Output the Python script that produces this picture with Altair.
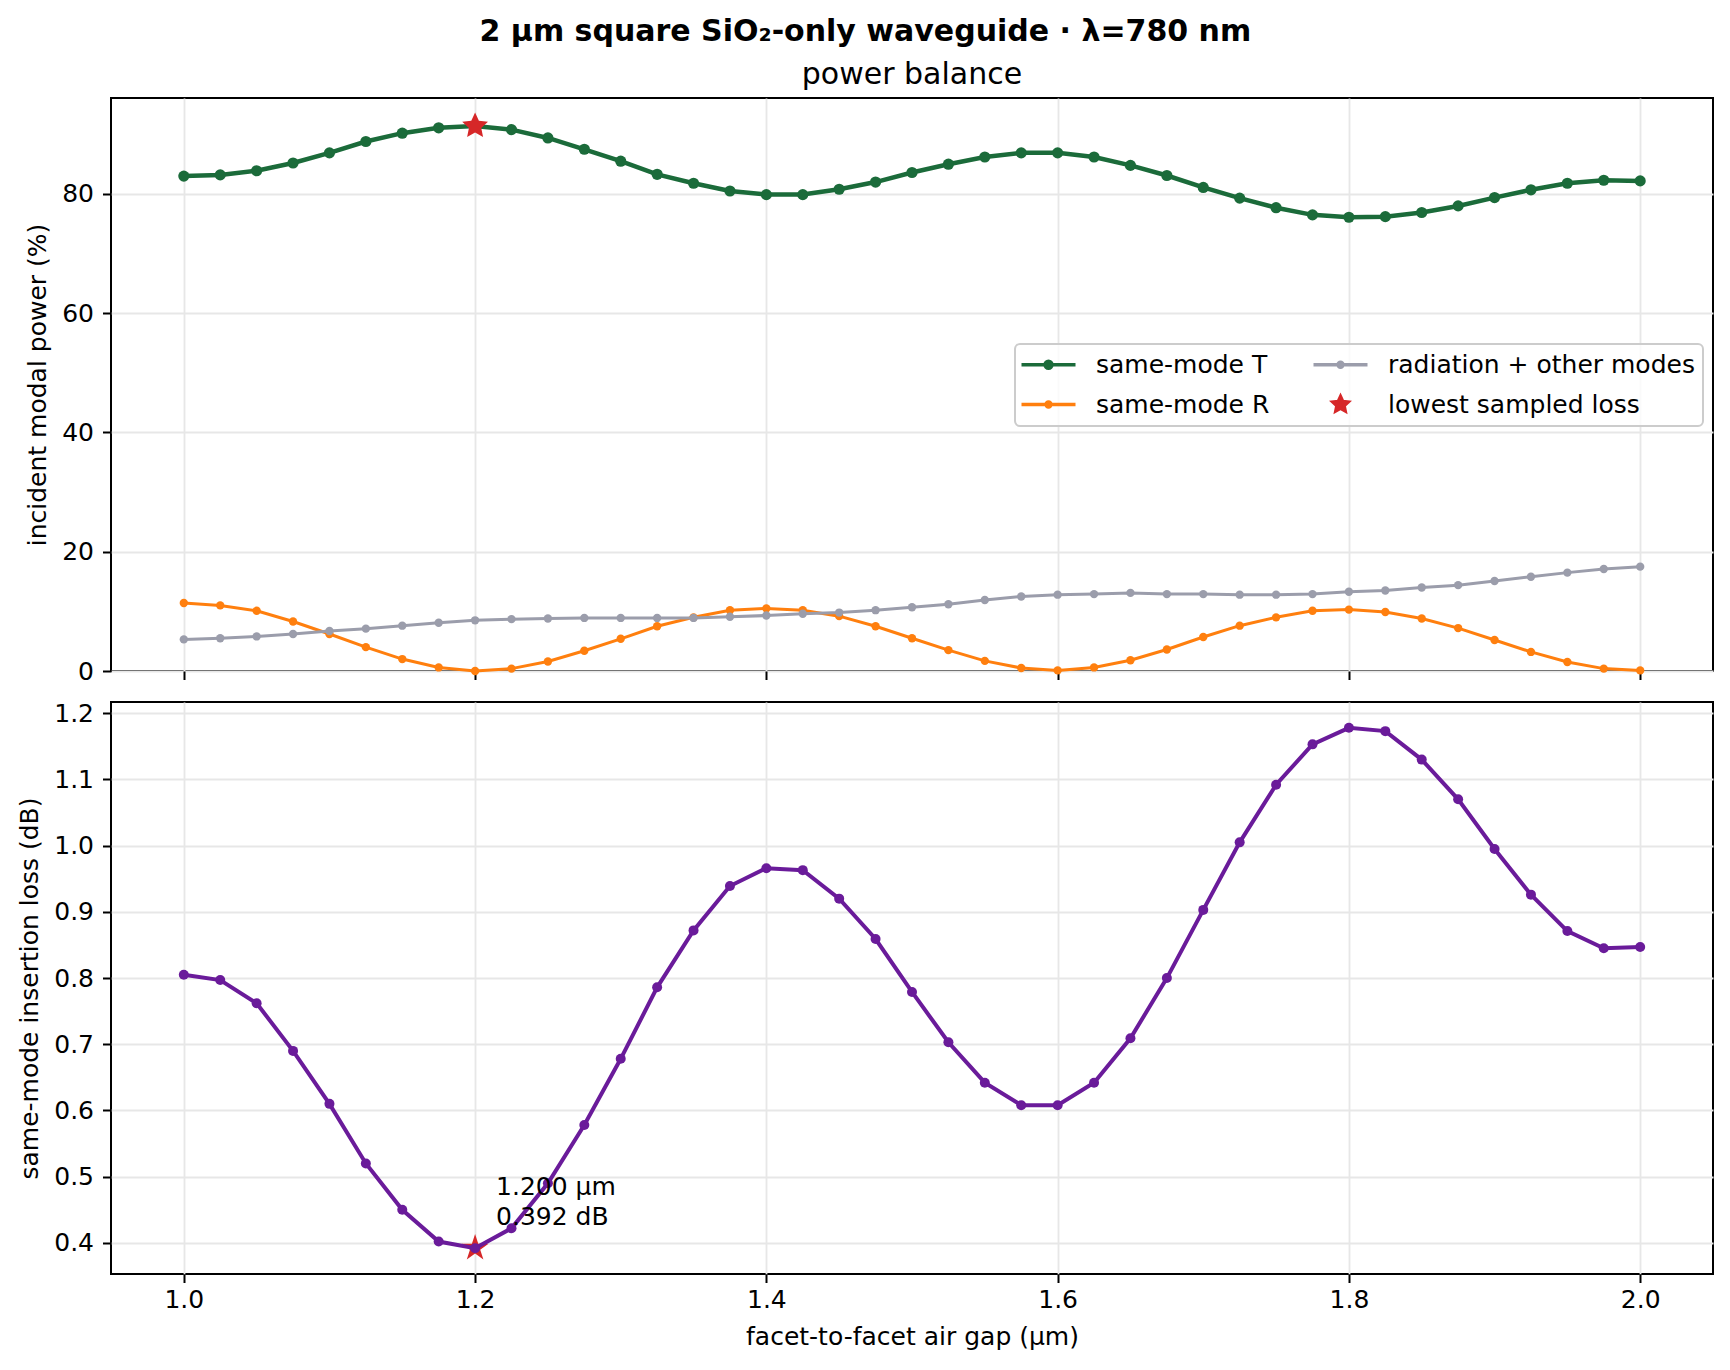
import math

import altair as alt
import pandas as pd

FONT = "DejaVu Sans"

# facet-to-facet air gap (µm)
gap_um = [1.000, 1.025, 1.050, 1.075, 1.100, 1.125, 1.150, 1.175, 1.200, 1.225,
          1.250, 1.275, 1.300, 1.325, 1.350, 1.375, 1.400, 1.425, 1.450, 1.475,
          1.500, 1.525, 1.550, 1.575, 1.600, 1.625, 1.650, 1.675, 1.700, 1.725,
          1.750, 1.775, 1.800, 1.825, 1.850, 1.875, 1.900, 1.925, 1.950, 1.975,
          2.000]

# incident modal power (%)
same_mode_T = [83.0, 83.2, 83.9, 85.2, 86.9, 88.8, 90.2, 91.1, 91.4, 90.8,
               89.4, 87.5, 85.5, 83.3, 81.8, 80.5, 79.9, 79.9, 80.8, 82.0,
               83.6, 85.0, 86.2, 86.9, 86.9, 86.2, 84.8, 83.1, 81.1, 79.3,
               77.7, 76.5, 76.1, 76.2, 76.9, 78.0, 79.4, 80.7, 81.8, 82.3,
               82.2]
same_mode_R = [11.4, 11.0, 10.1, 8.3, 6.2, 4.0, 2.0, 0.6, 0.0, 0.4,
               1.6, 3.4, 5.4, 7.5, 9.0, 10.2, 10.5, 10.2, 9.2, 7.5,
               5.5, 3.5, 1.7, 0.5, 0.1, 0.6, 1.8, 3.6, 5.7, 7.6,
               9.0, 10.1, 10.3, 9.9, 8.8, 7.2, 5.2, 3.2, 1.5, 0.4,
               0.1]
radiation = [5.3, 5.5, 5.8, 6.2, 6.7, 7.1, 7.6, 8.1, 8.5, 8.7,
             8.8, 8.9, 8.9, 8.9, 8.9, 9.1, 9.3, 9.6, 9.8, 10.2,
             10.7, 11.2, 11.9, 12.5, 12.8, 12.9, 13.1, 12.9, 12.9, 12.8,
             12.8, 12.9, 13.3, 13.5, 14.0, 14.4, 15.1, 15.8, 16.5, 17.1,
             17.5]

# same-mode insertion loss (dB)
loss_db = [0.805, 0.797, 0.762, 0.690, 0.610, 0.520, 0.450, 0.402, 0.392, 0.422,
           0.490, 0.578, 0.678, 0.786, 0.872, 0.939, 0.966, 0.963, 0.920, 0.859,
           0.779, 0.703, 0.642, 0.608, 0.608, 0.642, 0.709, 0.800, 0.903, 1.005,
           1.092, 1.153, 1.178, 1.173, 1.130, 1.070, 0.995, 0.926, 0.871, 0.845,
           0.847]

best_gap = 1.200
best_T = 91.4
best_loss = 0.392

# legend fills column by column: T, R / radiation, lowest
series_order = ["same-mode T", "same-mode R", "radiation + other modes",
                "lowest sampled loss"]
series_colors = ["#1b6b3a", "#ff7f0e", "#9b9dab", "#d62728"]
LOSS_COLOR = "#6a1b9a"


def star_path(r_out=1.0, r_in=0.382):
    pts = []
    for k in range(10):
        r = r_out if k % 2 == 0 else r_in
        a = math.radians(-90 + 36 * k)
        pts.append(f"{r * math.cos(a):.4f},{r * math.sin(a):.4f}")
    return "M" + "L".join(pts) + "Z"


def swatch_path(dot_r):
    # legend handle: a short line with a dot in the middle
    return (f"M-2.7,0H2.7M{-dot_r},0A{dot_r},{dot_r} 0 1,1 {dot_r},0"
            f"A{dot_r},{dot_r} 0 1,1 {-dot_r},0Z")


power = pd.DataFrame({
    "gap": gap_um * 3,
    "power": same_mode_T + same_mode_R + radiation,
    "series": ["same-mode T"] * len(gap_um) + ["same-mode R"] * len(gap_um)
    + ["radiation + other modes"] * len(gap_um),
})
loss = pd.DataFrame({"gap": gap_um, "loss": loss_db})
best_top = pd.DataFrame({"gap": [best_gap], "power": [best_T],
                         "series": ["lowest sampled loss"]})
best_bot = pd.DataFrame({"gap": [best_gap], "loss": [best_loss],
                         "label": [f"{best_gap:.3f} µm\n{best_loss:.3f} dB"]})

x_scale = alt.Scale(domain=[0.95, 2.05], nice=False, zero=False)
x_ticks = [1.0, 1.2, 1.4, 1.6, 1.8, 2.0]
color_scale = alt.Scale(domain=series_order, range=series_colors)
shape_scale = alt.Scale(domain=series_order,
                        range=[swatch_path(0.35), swatch_path(0.25),
                               swatch_path(0.25), star_path(0.8)])

legend = alt.Legend(
    title=None, orient="none", legendX=904, legendY=246, columns=2,
    columnPadding=36, rowPadding=11, symbolSize=400, symbolOffset=13,
    symbolStrokeWidth=3.4, labelOffset=35, labelFont=FONT, labelFontSize=25,
    labelColor="black", labelLimit=600, padding=8,
    fillColor="rgba(255,255,255,0.8)", strokeColor="#cccccc", cornerRadius=5,
)

x_top = alt.X("gap:Q", scale=x_scale,
              axis=alt.Axis(values=x_ticks, labels=False, title=None))
y_top = alt.Y("power:Q", scale=alt.Scale(domain=[0, 96.1], nice=False),
              axis=alt.Axis(values=[0, 20, 40, 60, 80], format="d",
                            title="incident modal power (%)"))
color_enc = alt.Color("series:N", scale=color_scale, legend=legend)


def series_layers(name, width, size):
    base = alt.Chart(power).transform_filter(
        alt.datum.series == name
    ).encode(x=x_top, y=y_top, color=color_enc)
    return [base.mark_line(strokeWidth=width),
            base.mark_point(filled=True, opacity=1, size=size)]


star_top = alt.Chart(best_top).mark_point(filled=True, opacity=1, size=1150).encode(
    x=x_top, y=y_top, color=color_enc,
    shape=alt.Shape("series:N", scale=shape_scale, legend=legend),
)

top = alt.layer(
    *series_layers("same-mode T", 4.5, 125),
    *series_layers("same-mode R", 3, 70),
    *series_layers("radiation + other modes", 3, 70),
    star_top,
).properties(
    width=1602, height=573,
    title=alt.TitleParams("power balance", font=FONT, fontSize=30,
                          fontWeight="normal", color="black", anchor="middle",
                          frame="group", offset=8),
)

x_bot = alt.X("gap:Q", scale=x_scale,
              axis=alt.Axis(values=x_ticks, format=".1f",
                            title="facet-to-facet air gap (µm)"))
y_bot = alt.Y("loss:Q", scale=alt.Scale(domain=[0.353, 1.217], nice=False, zero=False),
              axis=alt.Axis(values=[0.4, 0.5, 0.6, 0.7, 0.8, 0.9, 1.0, 1.1, 1.2],
                            format=".1f", title="same-mode insertion loss (dB)"))

loss_base = alt.Chart(loss).encode(x=x_bot, y=y_bot)
loss_line = loss_base.mark_line(color=LOSS_COLOR, strokeWidth=4)
loss_pts = loss_base.mark_point(color=LOSS_COLOR, filled=True, opacity=1, size=100)
star_bot = alt.Chart(best_bot).mark_point(
    shape=star_path(1.0), filled=True, opacity=1, size=800, color="#d62728"
).encode(x=x_bot, y=y_bot)
note = alt.Chart(best_bot).mark_text(
    align="left", baseline="bottom", dx=21, dy=-48, lineBreak="\n",
    lineHeight=30, font=FONT, fontSize=25, color="black",
).encode(x=x_bot, y=y_bot, text="label:N")

bottom = alt.layer(star_bot, loss_line, loss_pts, note).properties(
    width=1602, height=572)

chart = alt.vconcat(top, bottom, spacing=15).properties(
    title=alt.TitleParams(
        "2 µm square SiO₂-only waveguide · λ=780 nm", font=FONT, fontSize=30,
        fontWeight="bold", color="black", anchor="middle", offset=12),
    padding={"left": 8, "top": 9, "right": 5, "bottom": 5},
    background="white",
).configure_view(
    stroke="black", strokeWidth=2
).configure_axis(
    labelFont=FONT, labelFontSize=25, labelColor="black",
    titleFont=FONT, titleFontSize=25, titleFontWeight="normal",
    titleColor="black", tickColor="black", tickSize=8.5, tickWidth=2,
    domain=False, grid=True, gridColor="#e7e7e7", gridWidth=1.8,
).configure_axisX(
    labelPadding=5, titlePadding=12
).configure_axisY(
    labelPadding=9, titlePadding=11
).configure_legend(
    strokeWidth=2
)

chart.save("out.html", embed_options={"renderer": "svg", "actions": False})
